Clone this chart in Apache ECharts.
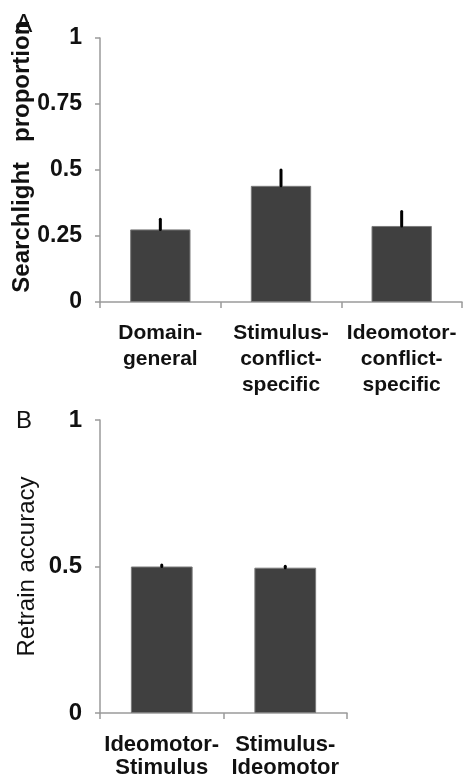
<!DOCTYPE html>
<html>
<head>
<meta charset="utf-8">
<script src="https://cdn.jsdelivr.net/npm/echarts@6/dist/echarts.min.js"></script>
<style>html,body{margin:0;padding:0;background:#fff}#c{width:465px;height:775px}</style>
</head>
<body>
<div id="c"></div>
<script>
// Panel A
const catsA = ['Domain-\ngeneral', 'Stimulus-\nconflict-\nspecific', 'Ideomotor-\nconflict-\nspecific'];
const valsA = [0.275, 0.44, 0.288];
const errA = [0.038, 0.06, 0.055];
const ticksA = [0, 0.25, 0.5, 0.75, 1];
// Panel B
const catsB = ['Ideomotor-\nStimulus', 'Stimulus-\nIdeomotor'];
const valsB = [0.5, 0.496];
const errB = [0.005, 0.005];
const ticksB = [0, 0.5, 1];

const FONT = 'Liberation Sans, Arial, sans-serif';
const AXIS = '#9a9a9a';
const BAR = '#404040';

function errSeries(xi, yi, vals, errs) {
  return {
    type: 'custom', xAxisIndex: xi, yAxisIndex: yi, z: 5, silent: true,
    data: vals.map((v, i) => [i, v, v + errs[i]]),
    renderItem: function (params, api) {
      const p0 = api.coord([api.value(0), api.value(1)]);
      const p1 = api.coord([api.value(0), api.value(2)]);
      return { type: 'line', shape: { x1: p0[0], y1: p0[1], x2: p1[0], y2: p1[1] },
        style: { stroke: '#000', lineWidth: 3, lineCap: 'round' } };
    }
  };
}

function yAxis(gi, ticks, name, nameGap, nameWeight, nameSize, labelSize, margin) {
  return {
    gridIndex: gi, type: 'value', min: 0, max: 1,
    interval: ticks[1] - ticks[0],
    name: name, nameLocation: 'middle', nameGap: nameGap, nameMoveOverlap: false,
    nameTextStyle: { fontFamily: FONT, fontSize: nameSize, fontWeight: nameWeight, color: '#111' },
    axisLine: { show: true, lineStyle: { color: AXIS, width: 1.5 } },
    axisTick: { show: true, inside: false, length: 5, lineStyle: { color: AXIS, width: 1.5 } },
    splitLine: { show: false },
    axisLabel: { margin: margin, fontFamily: FONT, fontSize: labelSize, fontWeight: 'bold', color: '#111',
      formatter: v => ticks.includes(v) ? String(v) : '' }
  };
}

function xAxis(gi, cats, size, lh, margin) {
  return {
    gridIndex: gi, type: 'category', data: cats,
    axisLine: { show: true, lineStyle: { color: AXIS, width: 1.5 } },
    axisTick: { show: true, inside: false, length: 6, alignWithLabel: false, lineStyle: { color: AXIS, width: 1.5 } },
    axisLabel: { interval: 0, margin: margin, fontFamily: FONT, fontSize: size, fontWeight: 'bold',
      color: '#111', lineHeight: lh }
  };
}

const chart = echarts.init(document.getElementById('c'), null, { renderer: 'canvas' });
chart.setOption({
  animation: false,
  backgroundColor: '#fff',
  title: [
    { text: 'A', left: 10, top: 7, textStyle: { fontFamily: FONT, fontSize: 26, fontWeight: 'normal', color: '#111' } },
    { text: 'B', left: 11, top: 404, textStyle: { fontFamily: FONT, fontSize: 24, fontWeight: 'normal', color: '#111' } }
  ],
  grid: [
    { left: 100, top: 38, width: 362, height: 264, containLabel: false, outerBoundsMode: 'none' },
    { left: 100, top: 420, width: 247, height: 293, containLabel: false, outerBoundsMode: 'none' }
  ],
  xAxis: [xAxis(0, catsA, 21, 26, 18), xAxis(1, catsB, 22, 23, 20)],
  yAxis: [
    yAxis(0, ticksA, '    Searchlight   proportion', 66, 'bold', 24, 23, 18),
    yAxis(1, ticksB, 'Retrain accuracy', 61, 'normal', 24, 24, 18)
  ],
  series: [
    { type: 'bar', xAxisIndex: 0, yAxisIndex: 0, data: valsA, barWidth: '50%',
      itemStyle: { color: BAR, borderColor: '#7a7a7a', borderWidth: 1 } },
    errSeries(0, 0, valsA, errA),
    { type: 'bar', xAxisIndex: 1, yAxisIndex: 1, data: valsB, barWidth: '50%',
      itemStyle: { color: BAR, borderColor: '#7a7a7a', borderWidth: 1 } },
    errSeries(1, 1, valsB, errB)
  ]
});
</script>
</body>
</html>
